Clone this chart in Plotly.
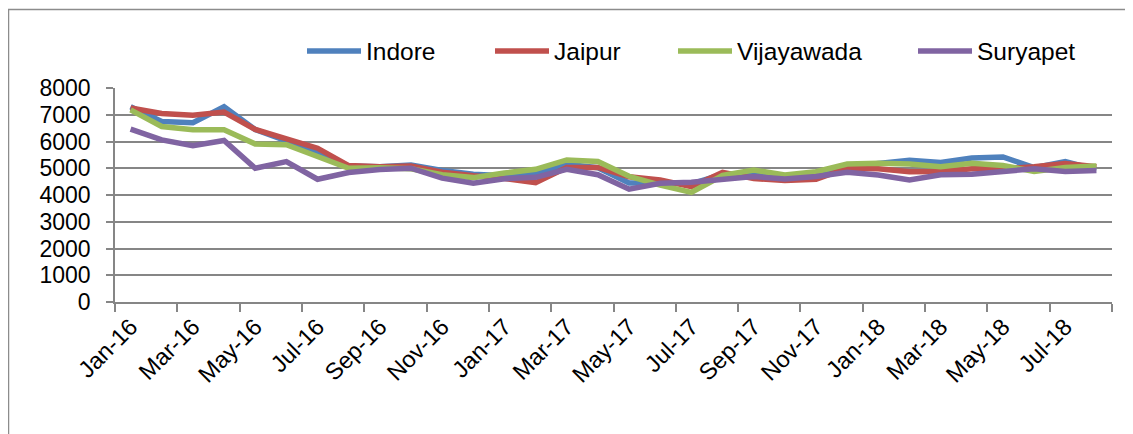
import plotly.graph_objects as go

months = ["Jan-16","Feb-16","Mar-16","Apr-16","May-16","Jun-16","Jul-16","Aug-16","Sep-16","Oct-16","Nov-16","Dec-16",
          "Jan-17","Feb-17","Mar-17","Apr-17","May-17","Jun-17","Jul-17","Aug-17","Sep-17","Oct-17","Nov-17","Dec-17",
          "Jan-18","Feb-18","Mar-18","Apr-18","May-18","Jun-18","Jul-18","Aug-18"]

indore = [7300, 6750, 6700, 7300, 6450, 6000, 5600, 5080, 5060, 5120, 4920, 4780, 4720, 4780, 5150, 5020,
          4450, 4450, 4420, 4780, 4750, 4700, 4760, 5050, 5180, 5300, 5220, 5380, 5420, 5020, 5250, 4950]
jaipur = [7250, 7050, 6980, 7100, 6450, 6080, 5750, 5100, 5060, 5080, 4850, 4720, 4620, 4460, 5030, 5030,
          4680, 4560, 4310, 4850, 4620, 4540, 4590, 5000, 4980, 4870, 4880, 4980, 4980, 5060, 5180, 5060]
vijayawada = [7180, 6560, 6440, 6440, 5910, 5880, 5440, 5000, 5020, 4980, 4760, 4650, 4820, 4960, 5310, 5250,
              4700, 4370, 4100, 4730, 4930, 4750, 4870, 5160, 5190, 5160, 5060, 5190, 5100, 4880, 5030, 5080]
suryapet = [6460, 6060, 5840, 6040, 5000, 5250, 4590, 4840, 4950, 5000, 4630, 4440, 4610, 4660, 4960, 4760,
            4220, 4440, 4480, 4600, 4690, 4600, 4690, 4850, 4750, 4560, 4760, 4780, 4900, 4980, 4880, 4920]

series_names = ["Indore", "Jaipur", "Vijayawada", "Suryapet"]
series_values = [indore, jaipur, vijayawada, suryapet]
colors = ["#4F81BD", "#C0504D", "#9BBB59", "#8064A2"]

FONT = "Liberation Sans, Arial, sans-serif"
W, H = 1133, 434
OFF = 8  # page offset of the figure inside the browser page
L, R, T, B = 115 - OFF, W - (1112 - OFF), 88 - OFF, H - (302 - OFF)
PW, PH = W - L - R, H - T - B


def px_x(p):
    return (p - OFF - L) / PW


def px_y(p):
    return (H - B - (p - OFF)) / PH


x_idx = list(range(len(months)))
fig = go.Figure()
legend_x = [307, 495, 678, 918]
legend_keys = ["legend", "legend2", "legend3", "legend4"]
for name, vals, col, lk in zip(series_names, series_values, colors, legend_keys):
    fig.add_trace(go.Scatter(x=x_idx, y=vals, mode="lines", name=name,
                             line=dict(color=col, width=5.5), legend=lk))

layout_legends = {}
for lk, lx in zip(legend_keys, legend_x):
    layout_legends[lk] = dict(x=(lx - OFF - 5) / W, y=1 - (51 - OFF) / H, xref="container", yref="container",
                              xanchor="left", yanchor="middle", orientation="h",
                              font=dict(family=FONT, size=24.5, color="#000000"),
                              bgcolor="rgba(0,0,0,0)", itemwidth=54, tracegroupgap=0)

tickvals = x_idx[::2]
ticktext = months[::2]

fig.update_layout(
    width=W, height=H,
    margin=dict(l=L, r=R, t=T, b=B, autoexpand=False),
    paper_bgcolor="white", plot_bgcolor="white",
    showlegend=True,
    font=dict(family=FONT, size=23, color="#000000"),
    xaxis=dict(range=[-0.5, len(months) - 0.5], tickmode="array", tickvals=tickvals, ticktext=ticktext,
               tickangle=-45, ticks="", showgrid=False, showline=True, linecolor="#868686", linewidth=1.5,
               zeroline=False, tickfont=dict(family=FONT, size=23.5),
               minor=dict(tickmode="linear", tick0=-0.5, dtick=2, ticks="outside", ticklen=8,
                          tickcolor="#868686", tickwidth=1.5, showgrid=False)),
    yaxis=dict(range=[0, 8000], dtick=1000, tick0=0, showgrid=True, gridcolor="#868686", gridwidth=1.5,
               showline=True, linecolor="#868686", linewidth=1.5, ticks="outside", ticklen=7,
               tickcolor="#868686", tickwidth=1.5, zeroline=False, ticklabelstandoff=11,
               tickfont=dict(family=FONT, size=23)),
    shapes=[dict(type="rect", xref="paper", yref="paper",
                 x0=px_x(8.5), x1=px_x(1130), y0=px_y(460), y1=px_y(9.5),
                 line=dict(color="#8c8c8c", width=1.5), fillcolor="rgba(0,0,0,0)", layer="below")],
    **layout_legends,
)

fig.write_html("out.html")
